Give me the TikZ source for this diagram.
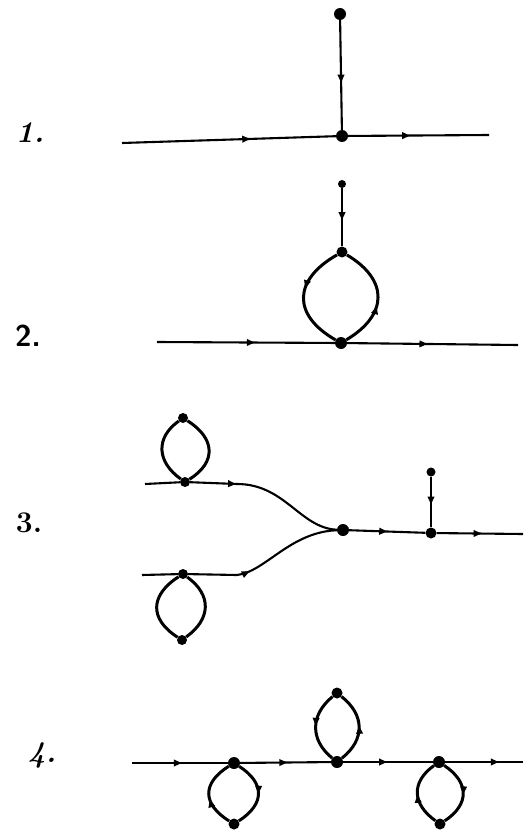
\documentclass[tikz,border=0pt]{standalone}
\usetikzlibrary{arrows.meta,decorations.markings}
\begin{document}
\begin{tikzpicture}[x=1pt,y=-1pt,
  dot/.style={circle,fill,inner sep=0pt,minimum size=#1},
  dot/.default=11pt,
  wire/.style={line width=2.1pt},
  lp/.style={line width=3pt},
  arr/.style={postaction={decorate},decoration={markings,mark=at position #1 with {\arrow{Triangle[length=8pt,width=6.5pt]}}}},
  lbl/.style={font=\fontsize{30}{30}\selectfont\bfseries\itshape}]
\useasboundingbox (0,0) rectangle (523,832);
% ---- 1 ----
\node[lbl] (l1) at (30,133) {1.};
\node[dot=12pt] (a1) at (340,14) {};
\node[dot=12pt] (a2) at (342,136) {};
\coordinate (a0) at (122,143);
\coordinate (a3) at (489,135);
\draw[wire,arr=0.57] (a1) -- (a2);
\draw[wire,arr=0.6] (a0) -- (a2);
\draw[wire,arr=0.44] (a2) -- (a3);
% ---- 2 ----
\node[font=\fontsize{30}{30}\selectfont\sffamily\bfseries] (l2) at (28,336) {2.};
\node[dot=8pt] (b0) at (342,184) {};
\node[dot=11pt] (b1) at (342,252) {};
\node[dot=12pt] (b2) at (341,343) {};
\coordinate (bL) at (157,342);
\coordinate (bR) at (518,345);
\draw[wire,arr=0.55] (b0) -- (b1);
\draw[lp,arr=0.42] (b1) .. controls +(-49,28) and +(-49,-28) .. (b2);
\draw[lp,arr=0.42] (b2) .. controls +(47,-28) and +(47,28) .. (b1);
\draw[wire,arr=0.55] (bL) -- (b2);
\draw[wire,arr=0.47] (b2) -- (bR);
% ---- 3 ----
\node[font=\fontsize{30}{30}\selectfont\bfseries] (l3) at (29,523) {3.};
\node[dot=10pt] (c1) at (183,418) {};
\node[dot=10pt] (c2) at (185,482) {};
\draw[lp] (c1) .. controls +(-28,20) and +(-28,-20) .. (c2);
\draw[lp] (c1) .. controls +(32,20) and +(32,-20) .. (c2);
\coordinate (cA) at (145,484);
\coordinate (cK) at (237,484);
\node[dot=12pt] (c5) at (343,530) {};
\draw[wire] (cA) -- (c2);
\draw[wire,arr=0.98] (c2) -- (cK);
\draw[wire] (cK) .. controls (285,484) and (300,528) .. (c5);
\node[dot=10pt] (c3) at (183,574) {};
\node[dot=10pt] (c4) at (182,640) {};
\draw[lp] (c3) .. controls +(-33,21) and +(-33,-21) .. (c4);
\draw[lp] (c3) .. controls +(29,21) and +(29,-21) .. (c4);
\coordinate (cB) at (142,575);
\coordinate (cL) at (237,575);
\draw[wire] (cB) -- (c3);
\draw[wire] (c3) -- (cL);
\draw[wire,arr=0.12] (cL) .. controls (265,572) and (290,532) .. (c5);
\node[dot=11pt] (c6) at (431,533) {};
\node[dot=9pt] (c7) at (431,472) {};
\coordinate (cR) at (523,534);
\draw[wire,arr=0.5] (c5) -- (c6);
\draw[wire,arr=0.52] (c6) -- (cR);
\draw[wire,arr=0.55] (c7) -- (c6);
% ---- 4 ----
\node[lbl] (l4) at (42,755) {4.};
\coordinate (dL) at (132,763);
\coordinate (dR) at (523,762);
\node[dot=12pt] (d1) at (234,763) {};
\node[dot=12pt] (d2) at (337,762) {};
\node[dot=12pt] (d3) at (439,762) {};
\node[dot=11pt] (e1) at (234,824) {};
\node[dot=11pt] (e2) at (337,693) {};
\node[dot=11pt] (e3) at (440,824) {};
\draw[wire,arr=0.52] (dL) -- (d1);
\draw[wire,arr=0.52] (d1) -- (d2);
\draw[wire,arr=0.49] (d2) -- (d3);
\draw[wire,arr=0.69] (d3) -- (dR);
\draw[lp,arr=0.42] (e1) .. controls +(-32,-20) and +(-32,20) .. (d1);
\draw[lp,arr=0.5] (d1) .. controls +(31,20) and +(31,-20) .. (e1);
\draw[lp,arr=0.48] (e2) .. controls +(-27,22) and +(-27,-22) .. (d2);
\draw[lp,arr=0.52] (d2) .. controls +(28,-22) and +(28,22) .. (e2);
\draw[lp,arr=0.48] (e3) .. controls +(-28,-20) and +(-28,20) .. (d3);
\draw[lp,arr=0.52] (d3) .. controls +(30,20) and +(30,-20) .. (e3);
\end{tikzpicture}
\end{document}
